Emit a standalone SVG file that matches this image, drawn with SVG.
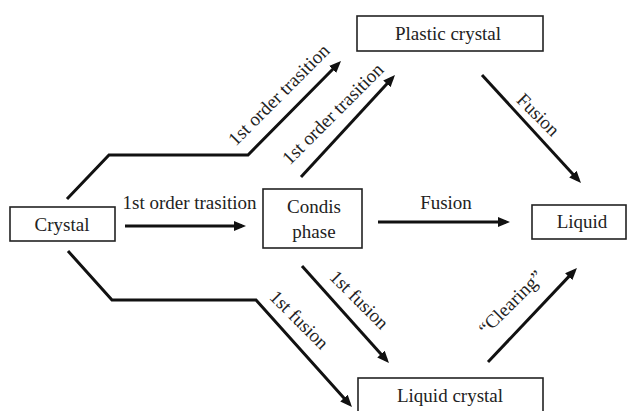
<svg xmlns="http://www.w3.org/2000/svg" width="627" height="411" viewBox="0 0 627 411">
<style>
.box{fill:#fff;stroke:#222;stroke-width:1.6}
.t{font-family:"Liberation Serif","Times New Roman",serif;font-size:19px;fill:#222}
.c{text-anchor:middle}
.ln{fill:none;stroke:#111;stroke-width:3;stroke-linejoin:miter}
.ar{marker-end:url(#ah)}
</style>
<defs>
<marker id="ah" markerUnits="userSpaceOnUse" viewBox="0 0 12 10" markerWidth="12" markerHeight="10" refX="8" refY="5" orient="auto">
<path d="M0,0 L12,5 L0,10 z" fill="#111"/>
</marker>
</defs>
<g id="connectors">
<line class="ln ar" x1="125" y1="226" x2="242" y2="226"/>
<line class="ln ar" x1="378" y1="222" x2="506" y2="222"/>
<polyline class="ln ar" points="67,199 109,155 248,155 338.2,63.8"/>
<line class="ln ar" x1="301" y1="177" x2="392.3" y2="77.9"/>
<line class="ln ar" x1="482" y1="75" x2="578.3" y2="180.1"/>
<line class="ln ar" x1="302" y1="266" x2="386.3" y2="360"/>
<polyline class="ln ar" points="68,251 112,300 256,300 349.3,404"/>
<line class="ln ar" x1="488" y1="362" x2="574.2" y2="270.9"/>
<text class="t c" x="189.5" y="209">1st order trasition</text>
<text class="t c" x="446" y="209">Fusion</text>
<text class="t c" transform="translate(279,95) rotate(-45)" x="0" y="6">1st order trasition</text>
<text class="t c" transform="translate(333,114) rotate(-45)" x="0" y="6">1st order trasition</text>
<text class="t c" transform="translate(538,115) rotate(45)" x="0" y="6">Fusion</text>
<text class="t c" transform="translate(359,300) rotate(45)" x="0" y="6">1st fusion</text>
<text class="t c" transform="translate(299,320) rotate(45)" x="0" y="6">1st fusion</text>
<text class="t c" transform="translate(511,303) rotate(-45)" x="0" y="6">“Clearing”</text>
</g>
<g id="crystal">
<rect class="box" x="10" y="207" width="105" height="34"/>
<text class="t c" x="62" y="231">Crystal</text>
</g>
<g id="condis">
<rect class="box" x="263" y="189" width="99" height="59"/>
<text class="t c" x="314" y="213">Condis</text>
<text class="t c" x="314" y="238">phase</text>
</g>
<g id="plastic">
<rect class="box" x="357" y="16" width="186" height="35"/>
<text class="t c" x="448" y="40">Plastic crystal</text>
</g>
<g id="liquid">
<rect class="box" x="532" y="205" width="94" height="34"/>
<text class="t c" x="582" y="228">Liquid</text>
</g>
<g id="liquidcrystal">
<rect class="box" x="358" y="378" width="185" height="40"/>
<text class="t c" x="450" y="402">Liquid crystal</text>
</g>
</svg>
